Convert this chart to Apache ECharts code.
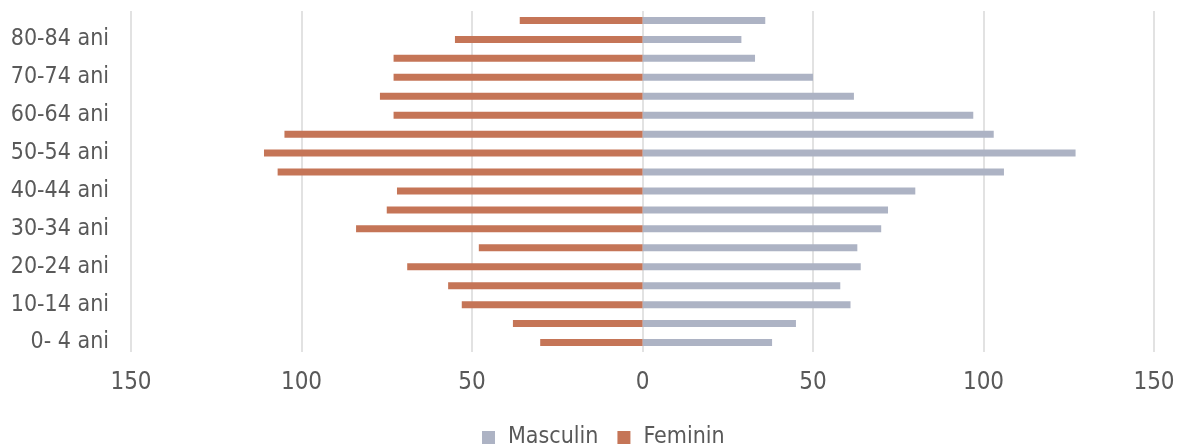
<!DOCTYPE html>
<html>
<head>
<meta charset="utf-8">
<script src="https://cdn.jsdelivr.net/npm/echarts@6/dist/echarts.min.js"></script>
<style>
html,body{margin:0;padding:0;background:#fff;}
#c{width:1181px;height:446px;}
</style>
</head>
<body>
<div id="c"></div>
<script>
const categories = ["0- 4 ani","5- 9 ani","10-14 ani","15-19 ani","20-24 ani","25-29 ani","30-34 ani","35-39 ani","40-44 ani","45-49 ani","50-54 ani","55-59 ani","60-64 ani","65-69 ani","70-74 ani","75-79 ani","80-84 ani","85+ ani"];
const masculin = [38,45,61,58,64,63,70,72,80,106,127,103,97,62,50,33,29,36];
const feminin  = [30,38,53,57,69,48,84,75,72,107,111,105,73,77,73,73,55,36];
const xTicks = [-150,-100,-50,0,50,100,150];

const FONT = "'DejaVu Sans Condensed', 'DejaVu Sans', sans-serif";
const chart = echarts.init(document.getElementById('c'), null, {renderer:'canvas'});
chart.setOption({
  animation:false,
  backgroundColor:'#ffffff',
  textStyle:{fontFamily:FONT},
  grid:{left:131,right:27,top:11,bottom:94,containLabel:false},
  legend:{
    data:['Masculin','Feminin'],
    top:421,left:477,
    itemWidth:13,itemHeight:13,itemGap:19,
    icon:'rect',
    textStyle:{fontFamily:FONT,fontSize:23,color:'#595959',padding:[0,0,0,8]}
  },
  xAxis:{
    type:'value',min:xTicks[0],max:xTicks[xTicks.length-1],interval:50,
    axisLine:{show:false},axisTick:{show:false},
    splitLine:{show:true,lineStyle:{color:'#d9d9d9',width:1.5}},
    axisLabel:{formatter:v=>String(Math.abs(v)),fontFamily:FONT,fontSize:24,color:'#595959',margin:19}
  },
  yAxis:{
    type:'category',data:categories,
    axisLine:{show:false},axisTick:{show:false},
    axisLabel:{interval:1,fontFamily:FONT,fontSize:23,color:'#595959',margin:22,padding:[4,0,0,0]}
  },
  series:[
    {name:'Masculin',type:'bar',data:masculin,barWidth:7,barGap:'-100%',itemStyle:{color:'#adb3c4'}},
    {name:'Feminin',type:'bar',data:feminin.map(v=>-v),barWidth:7,barGap:'-100%',itemStyle:{color:'#c57557'}}
  ]
});
</script>
</body>
</html>
